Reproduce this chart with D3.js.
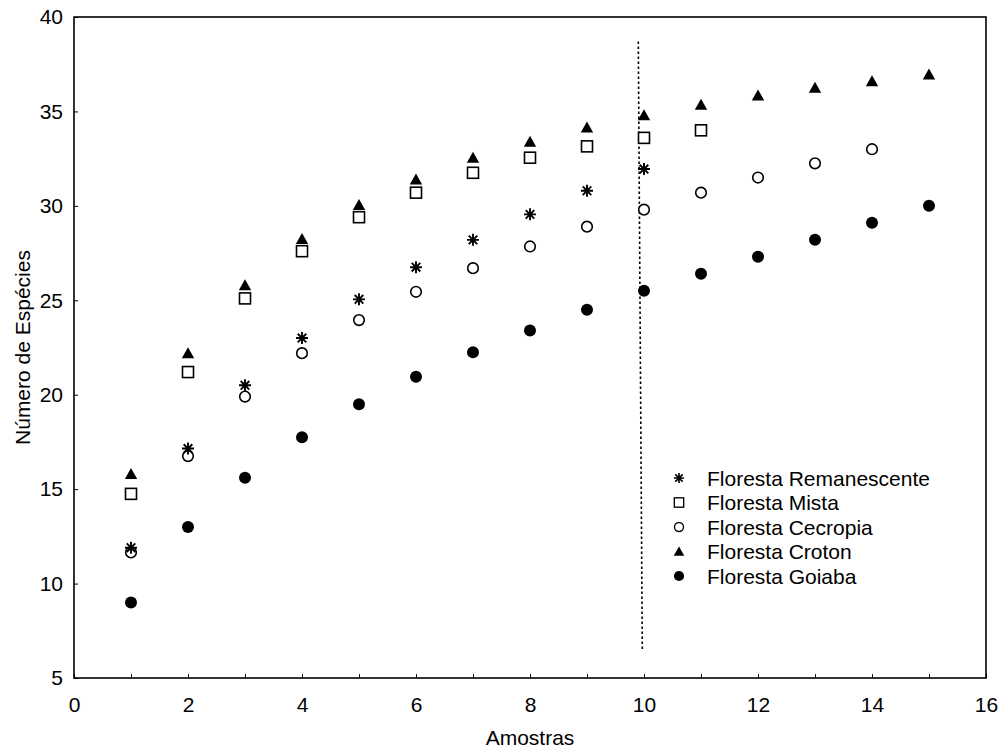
<!DOCTYPE html>
<html>
<head>
<meta charset="utf-8">
<script src="https://cdn.jsdelivr.net/npm/d3@7"></script>
<style>
  body { margin: 0; background: #fff; }
  text { font-family: "Liberation Sans", Arial, sans-serif; }
</style>
</head>
<body>
<svg width="1004" height="749"></svg>
<script>
const samples = d3.range(1, 16);
const remanescente = [11.9, 17.15, 20.5, 23.0, 25.05, 26.75, 28.2, 29.55, 30.8, 31.95];
const mista = [14.75, 21.2, 25.1, 27.6, 29.4, 30.7, 31.75, 32.55, 33.15, 33.6, 34.0];
const cecropia = [11.65, 16.75, 19.9, 22.2, 23.95, 25.45, 26.7, 27.85, 28.9, 29.8, 30.7, 31.5, 32.25, 33.0];
const croton = [15.8, 22.2, 25.8, 28.25, 30.05, 31.4, 32.55, 33.4, 34.15, 34.8, 35.35, 35.85, 36.25, 36.6, 36.95];
const goiaba = [9.0, 13.0, 15.6, 17.75, 19.5, 20.95, 22.25, 23.4, 24.5, 25.5, 26.4, 27.3, 28.2, 29.1, 30.0];
const seriesNames = ["Floresta Remanescente", "Floresta Mista", "Floresta Cecropia", "Floresta Croton", "Floresta Goiaba"];
const cutLine = [[9.9, 38.7], [9.97, 6.5]];

const svg = d3.select("svg");
const margin = { left: 74, top: 17, right: 18, bottom: 71 };
const width = 1004 - margin.left - margin.right;
const height = 749 - margin.top - margin.bottom;
const fontSize = 21;

const x = d3.scaleLinear().domain([0, 16]).range([0, width]);
const y = d3.scaleLinear().domain([5, 40]).range([height, 0]);

const g = svg.append("g").attr("transform", `translate(${margin.left},${margin.top})`);

// frame
g.append("rect")
  .attr("width", width)
  .attr("height", height)
  .attr("fill", "none")
  .attr("stroke", "#000")
  .attr("stroke-width", 1.6);

// x axis: minor ticks at each unit, labels every 2
const xAxis = g.append("g").attr("transform", `translate(0,${height})`)
  .call(d3.axisBottom(x).tickValues(d3.range(0, 17)).tickSizeInner(-4).tickSizeOuter(0)
    .tickPadding(19).tickFormat(d => d % 2 === 0 ? d : ""));
xAxis.select(".domain").remove();
xAxis.selectAll("text").attr("font-size", fontSize).attr("fill", "#000").attr("font-family", null);

const yAxis = g.append("g")
  .call(d3.axisLeft(y).tickValues(d3.range(5, 41, 5)).tickSizeInner(-4).tickSizeOuter(0).tickPadding(11));
yAxis.select(".domain").remove();
yAxis.selectAll("text").attr("font-size", fontSize).attr("fill", "#000").attr("font-family", null);

// axis titles
svg.append("text")
  .attr("x", margin.left + width / 2)
  .attr("y", 745)
  .attr("text-anchor", "middle")
  .attr("font-size", fontSize)
  .text("Amostras");
svg.append("text")
  .attr("transform", `translate(30,${margin.top + height / 2}) rotate(-90)`)
  .attr("text-anchor", "middle")
  .attr("font-size", fontSize)
  .text("Número de Espécies");

// dotted separator
g.append("line")
  .attr("x1", x(cutLine[0][0])).attr("y1", y(cutLine[0][1]))
  .attr("x2", x(cutLine[1][0])).attr("y2", y(cutLine[1][1]))
  .attr("stroke", "#000")
  .attr("stroke-width", 1.6)
  .attr("stroke-dasharray", "2.5,2.5");

// marker drawing
const drawMarker = {
  star(sel) {
    sel.append("path")
      .attr("d", "M0,-6V6M-6,0H6M-4.3,-4.3L4.3,4.3M-4.3,4.3L4.3,-4.3")
      .attr("fill", "none").attr("stroke", "#000").attr("stroke-width", 1.9);
  },
  square(sel) {
    sel.append("rect")
      .attr("x", -5.5).attr("y", -5.5).attr("width", 11).attr("height", 11)
      .attr("fill", "#fff").attr("stroke", "#000").attr("stroke-width", 1.6);
  },
  circle(sel) {
    sel.append("circle").attr("r", 5.3)
      .attr("fill", "#fff").attr("stroke", "#000").attr("stroke-width", 1.6);
  },
  triangle(sel) {
    sel.append("path").attr("d", "M0,-6L6.2,5L-6.2,5Z").attr("fill", "#000");
  },
  dot(sel) {
    sel.append("circle").attr("r", 6).attr("fill", "#000");
  }
};

const seriesData = [remanescente, mista, cecropia, croton, goiaba];
const markerKinds = ["star", "square", "circle", "triangle", "dot"];
// drawing order: goiaba, cecropia, remanescente, mista, croton
[4, 2, 0, 1, 3].forEach(i => {
  g.append("g").selectAll("g")
    .data(seriesData[i])
    .join("g")
    .attr("transform", (d, j) => `translate(${x(samples[j])},${y(d)})`)
    .each(function () { drawMarker[markerKinds[i]](d3.select(this)); });
});

// legend
const legend = g.append("g").attr("transform", `translate(${679 - margin.left},${478 - margin.top})`);
seriesNames.forEach((name, i) => {
  const row = legend.append("g").attr("transform", `translate(0,${i * 24.5})`);
  const m = row.append("g").attr("transform", "scale(0.85)");
  drawMarker[markerKinds[i]](m);
  row.append("text")
    .attr("x", 28)
    .attr("dy", "0.36em")
    .attr("font-size", fontSize)
    .text(name);
});
</script>
</body>
</html>
